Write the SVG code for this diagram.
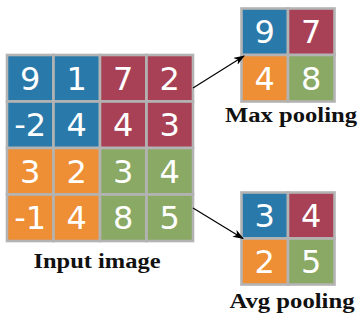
<svg xmlns="http://www.w3.org/2000/svg" width="360" height="320" viewBox="0 0 360 320">
<defs>
<style>
.c{stroke:#b3b3b3;stroke-width:2.6}
.b{fill:#2a79ab}.r{fill:#a84156}.o{fill:#ee8e35}.g{fill:#8aa964}
.n{font-family:"DejaVu Sans",sans-serif;font-size:32px;fill:#fff;text-anchor:middle}
.l{font-family:"Liberation Serif",serif;font-weight:bold;font-size:20px;fill:#111;text-anchor:middle}
.a{stroke:#000;stroke-width:1.2;fill:none;marker-end:url(#ah)}
</style>
<marker id="ah" viewBox="0 0 11 8" refX="10" refY="4" markerWidth="11" markerHeight="8" markerUnits="userSpaceOnUse" orient="auto">
<path d="M0,0 L11,4 L0,8 L3,4 Z" fill="#000"/>
</marker>
</defs>
<g id="input-image">
<rect class="c b" x="7" y="55" width="46.5" height="46.5"/>
<rect class="c b" x="53.5" y="55" width="46.5" height="46.5"/>
<rect class="c r" x="100" y="55" width="46.5" height="46.5"/>
<rect class="c r" x="146.5" y="55" width="46.5" height="46.5"/>
<rect class="c b" x="7" y="101.5" width="46.5" height="46.5"/>
<rect class="c b" x="53.5" y="101.5" width="46.5" height="46.5"/>
<rect class="c r" x="100" y="101.5" width="46.5" height="46.5"/>
<rect class="c r" x="146.5" y="101.5" width="46.5" height="46.5"/>
<rect class="c o" x="7" y="148" width="46.5" height="46.5"/>
<rect class="c o" x="53.5" y="148" width="46.5" height="46.5"/>
<rect class="c g" x="100" y="148" width="46.5" height="46.5"/>
<rect class="c g" x="146.5" y="148" width="46.5" height="46.5"/>
<rect class="c o" x="7" y="194.5" width="46.5" height="46.5"/>
<rect class="c o" x="53.5" y="194.5" width="46.5" height="46.5"/>
<rect class="c g" x="100" y="194.5" width="46.5" height="46.5"/>
<rect class="c g" x="146.5" y="194.5" width="46.5" height="46.5"/>
<text class="n" x="30.25" y="89.8">9</text>
<text class="n" x="76.75" y="89.8">1</text>
<text class="n" x="123.25" y="89.8">7</text>
<text class="n" x="169.75" y="89.8">2</text>
<text class="n" x="30.25" y="136.3">-2</text>
<text class="n" x="76.75" y="136.3">4</text>
<text class="n" x="123.25" y="136.3">4</text>
<text class="n" x="169.75" y="136.3">3</text>
<text class="n" x="30.25" y="182.8">3</text>
<text class="n" x="76.75" y="182.8">2</text>
<text class="n" x="123.25" y="182.8">3</text>
<text class="n" x="169.75" y="182.8">4</text>
<text class="n" x="30.25" y="229.3">-1</text>
<text class="n" x="76.75" y="229.3">4</text>
<text class="n" x="123.25" y="229.3">8</text>
<text class="n" x="169.75" y="229.3">5</text>
<text class="l" x="97" y="268" textLength="127" lengthAdjust="spacingAndGlyphs">Input image</text>
</g>
<g id="max-pooling">
<rect class="c b" x="241.5" y="8.5" width="46.5" height="46.5"/>
<rect class="c r" x="288" y="8.5" width="46.5" height="46.5"/>
<rect class="c o" x="241.5" y="55" width="46.5" height="46.5"/>
<rect class="c g" x="288" y="55" width="46.5" height="46.5"/>
<text class="n" x="264.75" y="43.3">9</text>
<text class="n" x="311.25" y="43.3">7</text>
<text class="n" x="264.75" y="89.8">4</text>
<text class="n" x="311.25" y="89.8">8</text>
<text class="l" x="291" y="122" textLength="132" lengthAdjust="spacingAndGlyphs">Max pooling</text>
</g>
<g id="avg-pooling">
<rect class="c b" x="241.5" y="192.5" width="46.5" height="46"/>
<rect class="c r" x="288" y="192.5" width="46.5" height="46"/>
<rect class="c o" x="241.5" y="238.5" width="46.5" height="46"/>
<rect class="c g" x="288" y="238.5" width="46.5" height="46"/>
<text class="n" x="264.75" y="227.2">3</text>
<text class="n" x="311.25" y="227.2">4</text>
<text class="n" x="264.75" y="273.2">2</text>
<text class="n" x="311.25" y="273.2">5</text>
<text class="l" x="292" y="308" textLength="125" lengthAdjust="spacingAndGlyphs">Avg pooling</text>
</g>
<g id="connectors">
<line class="a" x1="193" y1="88" x2="244" y2="56"/>
<line class="a" x1="193" y1="208" x2="243" y2="238.5"/>
</g>
</svg>
